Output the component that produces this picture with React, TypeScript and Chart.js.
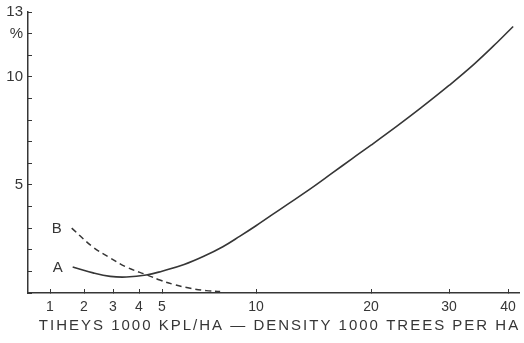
import React, { useEffect, useRef } from "react";
import { Chart, registerables, LinearScale } from "chart.js";

// ---- data ----
const X_TICKS = [1, 2, 3, 4, 5, 10, 20, 30, 40];
const Y_TICK_LABELS: Record<number, string> = { 5: "5", 10: "10", 12: "%", 13: "13" };

const A_X = [1.65, 2.3, 2.9, 3.5, 4.3, 5, 6, 7, 8, 9, 10, 12, 14, 16, 18, 20, 23, 26, 30, 34, 38, 41];
const A_Y = [1.2, 0.93, 0.77, 0.74, 0.83, 1.01, 1.32, 1.71, 2.14, 2.63, 3.11, 4.0, 4.78, 5.53, 6.22, 6.84, 7.73, 8.56, 9.6, 10.6, 11.6, 12.33];

const B_X = [1.62, 2.3, 2.9, 3.5, 4.35, 4.9, 5.5, 6.3, 7.1, 7.85];
const B_Y = [3.0, 2.12, 1.62, 1.2, 0.83, 0.6, 0.4, 0.22, 0.11, 0.07];

const X_TITLE = "TIHEYS 1000 KPL/HA \u2014 DENSITY 1000 TREES PER HA";

// ---- axis geometry of the hand-drawn density scale (fraction of axis length at each tick) ----
const AXIS_TICK_FRACTIONS = [22, 56, 85, 111, 134, 228, 343, 421, 480].map((p) => p / 491);

const g = (v: number) => Math.log(v + 5);

function valueToFraction(v: number): number {
  const k = X_TICKS;
  const f = AXIS_TICK_FRACTIONS;
  let i = 0;
  if (v <= k[0]) i = 0;
  else if (v >= k[k.length - 1]) i = k.length - 2;
  else while (v > k[i + 1]) i++;
  const t = (g(v) - g(k[i])) / (g(k[i + 1]) - g(k[i]));
  return f[i] + t * (f[i + 1] - f[i]);
}

function fractionToValue(s: number): number {
  const k = X_TICKS;
  const f = AXIS_TICK_FRACTIONS;
  let i = 0;
  if (s <= f[0]) i = 0;
  else if (s >= f[f.length - 1]) i = f.length - 2;
  else while (s > f[i + 1]) i++;
  const t = (s - f[i]) / (f[i + 1] - f[i]);
  return Math.exp(g(k[i]) + t * (g(k[i + 1]) - g(k[i]))) - 5;
}

class DensityScale extends LinearScale {
  static id = "density";
  static defaults = {};
  buildTicks() {
    return X_TICKS.map((v) => ({ value: v }));
  }
  getPixelForValue(value: number) {
    return (this as any).getPixelForDecimal(valueToFraction(value));
  }
  getValueForPixel(pixel: number) {
    return fractionToValue((this as any).getDecimalForPixel(pixel));
  }
}

Chart.register(...registerables, DensityScale as any);

const INK = "#363636";
const FONT = "'Liberation Sans', Arial, sans-serif";

const curveLabels = {
  id: "curveLabels",
  afterDatasetsDraw(chart: any) {
    const ctx = chart.ctx;
    ctx.save();
    ctx.fillStyle = INK;
    ctx.font = `15px ${FONT}`;
    ctx.textAlign = "center";
    ctx.textBaseline = "middle";
    chart.data.datasets.forEach((ds: any, i: number) => {
      const meta = chart.getDatasetMeta(i);
      const p = meta.data[0];
      if (p) ctx.fillText(ds.label, p.x - 15, p.y + 1);
    });
    ctx.restore();
  },
};

const axisTitle = {
  id: "axisTitle",
  afterDraw(chart: any) {
    const ctx = chart.ctx;
    const area = chart.chartArea;
    ctx.save();
    ctx.fillStyle = INK;
    ctx.font = `15px ${FONT}`;
    (ctx as any).letterSpacing = "2px";
    ctx.textAlign = "left";
    ctx.textBaseline = "middle";
    const w = ctx.measureText(X_TITLE).width;
    const cx = (area.left + area.right) / 2 + 6;
    ctx.fillText(X_TITLE, cx - w / 2, 326);
    ctx.restore();
  },
};

export default function App() {
  const ref = useRef<HTMLCanvasElement | null>(null);
  useEffect(() => {
    if (!ref.current) return;
    const chart = new Chart(ref.current, {
      type: "line",
      data: {
        datasets: [
          {
            label: "A",
            data: A_X.map((x, i) => ({ x, y: A_Y[i] })),
            borderColor: INK,
            borderWidth: 1.6,
            pointRadius: 0,
            tension: 0.4,
            fill: false,
          },
          {
            label: "B",
            data: B_X.map((x, i) => ({ x, y: B_Y[i] })),
            borderColor: INK,
            borderWidth: 1.5,
            borderDash: [6, 4],
            pointRadius: 0,
            tension: 0.4,
            fill: false,
          },
        ],
      },
      options: {
        responsive: false,
        maintainAspectRatio: false,
        animation: false,
        layout: { padding: { top: 12, right: 5, left: 0, bottom: 0 } },
        plugins: { legend: { display: false }, tooltip: { enabled: false }, title: { display: false } },
        scales: {
          x: {
            type: "density" as any,
            position: "bottom",
            min: 0.4,
            max: 42,
            grid: { display: true, drawOnChartArea: false, drawTicks: true, tickLength: -4, color: INK, lineWidth: 1 },
            border: { display: true, color: INK, width: 1.5 },
            ticks: {
              autoSkip: false,
              maxRotation: 0,
              padding: 10,
              color: INK,
              font: { family: FONT, size: 14 },
              callback: (v: any) => String(v),
            },
            afterFit: (s: any) => {
              s.height = 50;
              s.paddingLeft = 0;
              s.paddingRight = 0;
            },
          },
          y: {
            type: "linear",
            min: 0,
            max: 13,
            grid: { display: true, drawOnChartArea: false, drawTicks: true, tickLength: -4, color: INK, lineWidth: 1 },
            border: { display: true, color: INK, width: 1.5 },
            ticks: {
              stepSize: 1,
              autoSkip: false,
              padding: 9,
              color: INK,
              font: { family: FONT, size: 15 },
              callback: (v: any) => Y_TICK_LABELS[Number(v)] ?? "",
            },
            afterFit: (s: any) => {
              s.width = 28;
              s.paddingTop = 0;
              s.paddingBottom = 0;
            },
          },
        },
      },
      plugins: [curveLabels, axisTitle],
    } as any);
    return () => chart.destroy();
  }, []);
  return (
    <div style={{ position: "fixed", left: 0, top: 0, width: 524, height: 343, background: "#fff" }}>
      <canvas ref={ref} width={524} height={343} style={{ display: "block" }} />
    </div>
  );
}
